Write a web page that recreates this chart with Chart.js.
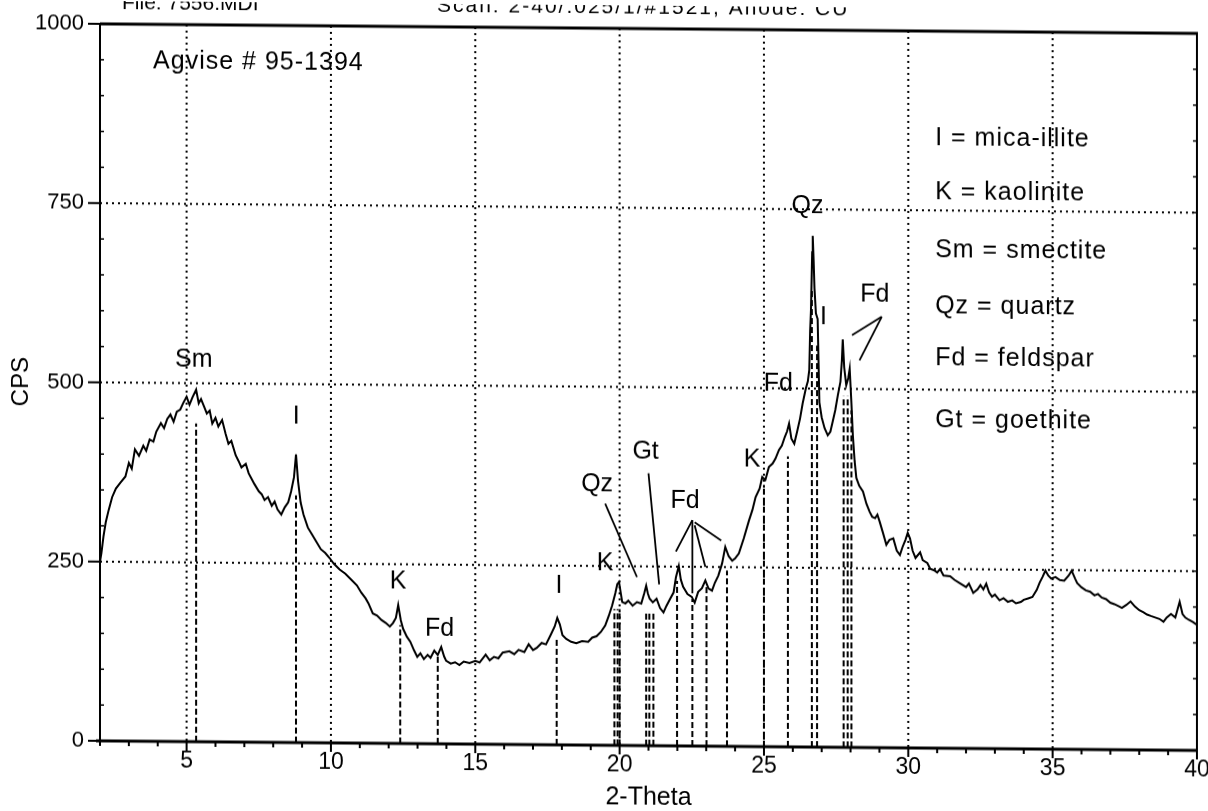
<!DOCTYPE html>
<html>
<head>
<meta charset="utf-8">
<script src="https://cdn.jsdelivr.net/npm/chart.js@4.4.0/dist/chart.umd.min.js"></script>
<style>
  html, body { margin: 0; padding: 0; background: #fff; overflow: hidden; }
  #wrap { width: 1208px; height: 811px; transform: skewY(0.5deg); transform-origin: 0 0; }
</style>
</head>
<body>
<div id="wrap"><canvas id="grafico" width="1208" height="811"></canvas></div>
<script>
const theta = [
  2.00, 2.05, 2.12, 2.20, 2.30, 2.42, 2.55, 2.70, 2.88, 3.00, 3.10, 3.21, 3.35, 3.50, 3.60, 3.72, 3.85, 3.95,
  4.11, 4.22, 4.33, 4.44, 4.55, 4.66, 4.78, 4.88, 5.00, 5.10, 5.20, 5.33, 5.42, 5.50, 5.61, 5.70, 5.80, 5.89,
  6.00, 6.10, 6.23, 6.35, 6.45, 6.55, 6.70, 6.80, 6.90, 7.05, 7.15, 7.23, 7.35, 7.50, 7.60, 7.70, 7.82, 7.95,
  8.05, 8.15, 8.28, 8.40, 8.52, 8.62, 8.72, 8.79, 8.86, 8.95, 9.05, 9.20, 9.35, 9.50, 9.65, 9.80, 9.95,
  10.10, 10.30, 10.50, 10.70, 10.90, 11.05, 11.20, 11.30, 11.45, 11.60, 11.75, 11.90, 12.04, 12.15, 12.25,
  12.33, 12.42, 12.50, 12.63, 12.75, 12.88, 12.99, 13.10, 13.22, 13.35, 13.45, 13.58, 13.70, 13.82, 13.92,
  13.99, 14.15, 14.30, 14.45, 14.60, 14.80, 15.00, 15.15, 15.36, 15.50, 15.65, 15.80, 15.95, 16.18, 16.35,
  16.50, 16.70, 16.85, 17.00, 17.13, 17.30, 17.45, 17.61, 17.75, 17.84, 17.93, 18.02, 18.15, 18.32, 18.50,
  18.70, 18.91, 19.05, 19.20, 19.35, 19.50, 19.62, 19.74, 19.85, 19.92, 19.98, 20.05, 20.09, 20.20, 20.30,
  20.45, 20.60, 20.75, 20.85, 20.92, 20.98, 21.04, 21.15, 21.28, 21.40, 21.52, 21.62, 21.75, 21.87, 21.95,
  22.05, 22.12, 22.20, 22.35, 22.50, 22.60, 22.72, 22.85, 22.97, 23.08, 23.20, 23.30, 23.42, 23.55, 23.66,
  23.78, 23.90, 24.00, 24.13, 24.30, 24.48, 24.60, 24.71, 24.85, 24.94, 25.05, 25.17, 25.30, 25.40, 25.52,
  25.62, 25.72, 25.80, 25.87, 25.95, 26.05, 26.15, 26.25, 26.34, 26.45, 26.52, 26.57, 26.60, 26.63, 26.67,
  26.69, 26.72, 26.75, 26.80, 26.86, 26.92, 27.00, 27.10, 27.21, 27.30, 27.38, 27.47, 27.56, 27.65, 27.70,
  27.73, 27.78, 27.85, 27.92, 27.97, 28.03, 28.08, 28.14, 28.20, 28.30, 28.43, 28.55, 28.66, 28.75, 28.85,
  28.93, 29.01, 29.12, 29.24, 29.35, 29.48, 29.60, 29.71, 29.80, 29.90, 29.98, 30.06, 30.15, 30.25, 30.41,
  30.50, 30.66, 30.76, 30.90, 31.00, 31.10, 31.22, 31.45, 31.60, 31.80, 32.00, 32.10, 32.25, 32.40, 32.50,
  32.60, 32.70, 32.80, 32.90, 33.00, 33.16, 33.30, 33.45, 33.60, 33.73, 33.90, 34.00, 34.15, 34.30, 34.45,
  34.55, 34.65, 34.75, 34.85, 34.95, 35.10, 35.25, 35.40, 35.55, 35.66, 35.78, 35.85, 36.00, 36.15, 36.30,
  36.45, 36.57, 36.70, 36.85, 37.00, 37.14, 37.30, 37.40, 37.55, 37.70, 37.85, 38.00, 38.15, 38.27, 38.40,
  38.55, 38.70, 38.84, 38.95, 39.10, 39.25, 39.40, 39.50, 39.60, 39.72, 39.86, 40.00
]
const cps = [
  250, 262, 285, 305, 322, 340, 352, 360, 369, 388, 380, 407, 398, 412, 405, 421, 418, 432,
  444, 437, 450, 456, 446, 460, 463, 472, 481, 470, 480, 491, 472, 478, 467, 458, 462, 444,
  452, 440, 449, 430, 416, 420, 400, 392, 383, 388, 375, 369, 360, 350, 346, 338, 342, 330,
  336, 325, 318, 328, 335, 350, 370, 402, 365, 335, 318, 300, 290, 280, 270, 265, 258,
  250, 242, 236, 228, 220, 210, 202, 195, 181, 178, 172, 168, 163, 168, 175,
  193, 172, 160, 149, 142, 130, 121, 126, 118, 124, 120, 130, 124, 135, 122,
  116, 112, 114, 110, 115, 113, 116, 114, 125, 117, 122, 120, 128, 130, 126,
  132, 129, 140, 132, 135, 142, 140, 153, 165, 177, 168, 153, 148, 144, 142,
  145, 144, 150, 152, 158, 167, 180, 195, 212, 225, 228, 210, 200, 198, 202,
  195, 200, 198, 212, 223, 212, 205, 200, 205, 192, 186, 195, 205, 214, 235,
  251, 232, 222, 212, 208, 200, 215, 220, 231, 220, 217, 228, 238, 255, 278,
  265, 259, 262, 269, 290, 315, 330, 348, 360, 376, 372, 390, 395, 402, 414,
  420, 432, 440, 451, 430, 423, 440, 458, 479, 500, 510, 526, 580, 611, 690,
  713, 680, 640, 605, 597, 481, 460, 445, 435, 440, 454, 470, 491, 510, 540,
  569, 530, 505, 515, 528, 480, 435, 400, 376, 365, 357, 340, 329, 322, 320,
  325, 315, 300, 283, 290, 292, 275, 269, 280, 290, 300, 292, 275, 265, 273,
  262, 258, 250, 248, 245, 250, 241, 240, 235, 230, 225, 230, 217, 222, 228,
  222, 230, 218, 212, 215, 207, 210, 205, 207, 203, 205, 208, 210, 212, 222,
  232, 240, 249, 242, 238, 240, 236, 235, 242, 249, 238, 232, 226, 222, 220,
  215, 217, 212, 210, 205, 203, 200, 198, 202, 207, 200, 195, 192, 189, 187,
  185, 183, 179, 185, 190, 185, 207, 190, 185, 182, 179, 175
]

// linhas verticais tracejadas dos picos identificados (posição e altura)
const picoTheta = [5.33, 8.79, 12.4, 13.7, 17.82, 19.82, 19.93, 20.0, 20.92, 21.03, 21.17, 21.99, 22.52,
  23.01, 23.72, 25.0, 25.83, 26.66, 26.84, 27.76, 27.9, 28.03]
const picoTopo = [444, 345, 165, 125, 150, 190, 190, 190, 185, 185, 185, 230, 205, 225, 245, 365, 405,
  640, 560, 490, 490, 470]

// rótulos dos picos
const rotulos = ['Sm', 'I', 'K', 'Fd', 'I', 'K', 'Qz', 'Gt', 'Fd', 'K', 'Fd', 'Qz', 'I', 'Fd']
const rotuloTheta = [5.25, 8.8, 12.33, 13.76, 17.9, 19.5, 19.22, 20.9, 22.27, 24.59, 25.5, 26.51, 27.06, 28.84]
const rotuloCps = [532, 455, 226, 160, 221, 254, 364, 410, 341, 400, 506, 755, 600, 631]

// traços que ligam rótulos aos picos [theta1, cps1, theta2, cps2]
const ligacoes = [
  [19.5, 337, 20.6, 235],
  [21.0, 380, 21.37, 225],
  [22.52, 315, 21.95, 271],
  [22.52, 315, 22.52, 213],
  [22.6, 308, 22.97, 250],
  [22.6, 312, 23.52, 287],
  [29.08, 601, 28.05, 575],
  [29.08, 601, 28.31, 540]
]

// legenda dos minerais
const legenda = ['I = mica-illite', 'K = kaolinite', 'Sm = smectite', 'Qz = quartz', 'Fd = feldspar', 'Gt = goethite']
const legendaCps = [850, 775, 694, 616, 544, 458]
const legendaTheta = 30.93

const gradeX = [5, 10, 15, 20, 25, 30, 35]
const gradeY = [250, 500, 750]

const FONTE = "'Liberation Sans', Arial, sans-serif"

const moldura = {
  id: 'moldura',
  beforeDatasetsDraw(chart) {
    const {ctx, chartArea: a, scales: {x, y}} = chart
    const linha = (x1, y1, x2, y2) => { ctx.beginPath(); ctx.moveTo(x1, y1); ctx.lineTo(x2, y2); ctx.stroke() }
    ctx.save()
    ctx.strokeStyle = '#000'
    ctx.lineWidth = 2
    ctx.setLineDash([2, 4])
    gradeX.forEach(v => { const px = x.getPixelForValue(v); linha(px, a.top, px, a.bottom) })
    gradeY.forEach(v => { const py = y.getPixelForValue(v); linha(a.left, py, a.right, py) })

    ctx.setLineDash([6, 3])
    picoTheta.forEach((t, i) => {
      const px = x.getPixelForValue(t)
      linha(px, y.getPixelForValue(0), px, y.getPixelForValue(picoTopo[i]))
    })

    ctx.setLineDash([])
    ctx.lineWidth = 1.8
    ligacoes.forEach(l => linha(x.getPixelForValue(l[0]), y.getPixelForValue(l[1]), x.getPixelForValue(l[2]), y.getPixelForValue(l[3])))
    ctx.restore()
  },
  afterDraw(chart) {
    const {ctx, chartArea: a, scales: {x, y}} = chart
    const linha = (x1, y1, x2, y2) => { ctx.beginPath(); ctx.moveTo(x1, y1); ctx.lineTo(x2, y2); ctx.stroke() }
    ctx.save()
    ctx.strokeStyle = '#000'
    ctx.fillStyle = '#000'

    // moldura
    ctx.lineWidth = 3
    linha(a.left - 4, a.bottom, a.right + 1, a.bottom)
    linha(a.left, a.top, a.right + 1, a.top)
    ctx.lineWidth = 2
    linha(a.left, a.top, a.left, a.bottom)
    linha(a.right, a.top, a.right, a.bottom)

    // marcas do eixo x
    for (let v = 2; v <= 40; v++) {
      const px = x.getPixelForValue(v)
      linha(px, a.bottom, px, a.bottom + (v % 5 === 0 ? 9 : 5))
    }
    // marcas do eixo y
    for (let v = 0; v <= 1000; v += 50) {
      const py = y.getPixelForValue(v)
      ctx.lineWidth = 1.5
      if (v % 250 === 0) { ctx.lineWidth = 2; linha(a.left - 12, py, a.left, py) }
      else { linha(a.left, py, a.left + 4, py) }
      ctx.lineWidth = 1.5
      linha(a.right - 4, py, a.right, py)
    }

    // textos
    ctx.font = `21px ${FONTE}`
    ctx.textBaseline = 'alphabetic'
    ctx.textAlign = 'left'
    ctx.fillText('File: 7556.MDI', 122, 8)
    ctx.letterSpacing = '2px'
    ctx.fillText('Scan: 2-40/.025/1/#1521, Anode: CU', 437, 8)

    ctx.font = `25px ${FONTE}`
    ctx.letterSpacing = '1px'
    ctx.textBaseline = 'middle'
    ctx.fillText('Agvise # 95-1394', x.getPixelForValue(3.84), y.getPixelForValue(948))

    legenda.forEach((t, i) => ctx.fillText(t, x.getPixelForValue(legendaTheta), y.getPixelForValue(legendaCps[i])))

    ctx.letterSpacing = '0px'
    ctx.textAlign = 'center'
    rotulos.forEach((t, i) => ctx.fillText(t, x.getPixelForValue(rotuloTheta[i]), y.getPixelForValue(rotuloCps[i])))
    ctx.restore()
  }
}

window.onload = () => {
  const contexto = document.getElementById('grafico').getContext('2d')
  const pontos = theta.map((t, i) => ({x: t, y: cps[i]}))

  new Chart(contexto, {
    type: 'line',
    data: {
      datasets: [{
        data: pontos,
        borderColor: '#000',
        borderWidth: 2,
        pointRadius: 0,
        tension: 0,
        fill: false
      }]
    },
    options: {
      responsive: false,
      animation: false,
      layout: {padding: {top: 23, right: 11, left: 0, bottom: 0}},
      plugins: {legend: {display: false}, tooltip: {enabled: false}},
      scales: {
        x: {
          type: 'linear',
          min: 2,
          max: 40,
          border: {display: false},
          grid: {display: false, drawTicks: true, tickLength: 9},
          ticks: {
            stepSize: 1,
            autoSkip: false,
            maxRotation: 0,
            padding: -3,
            color: '#000',
            font: {family: FONTE, size: 23},
            callback: v => (v % 5 === 0 ? String(v) : '')
          },
          title: {display: true, text: '2-Theta', color: '#000', font: {family: FONTE, size: 25}, padding: {top: 0, bottom: 4}},
          afterFit: s => { s.height = 71 }
        },
        y: {
          min: 0,
          max: 1000,
          border: {display: false},
          grid: {display: false, drawTicks: true, tickLength: 12},
          ticks: {stepSize: 250, padding: 4, color: '#000', font: {family: FONTE, size: 22}, callback: v => String(v)},
          title: {display: true, text: 'CPS', color: '#000', font: {family: FONTE, size: 24}, padding: {top: 7}},
          afterFit: s => { s.width = 100 }
        }
      }
    },
    plugins: [moldura]
  })
}
</script>
</body>
</html>
